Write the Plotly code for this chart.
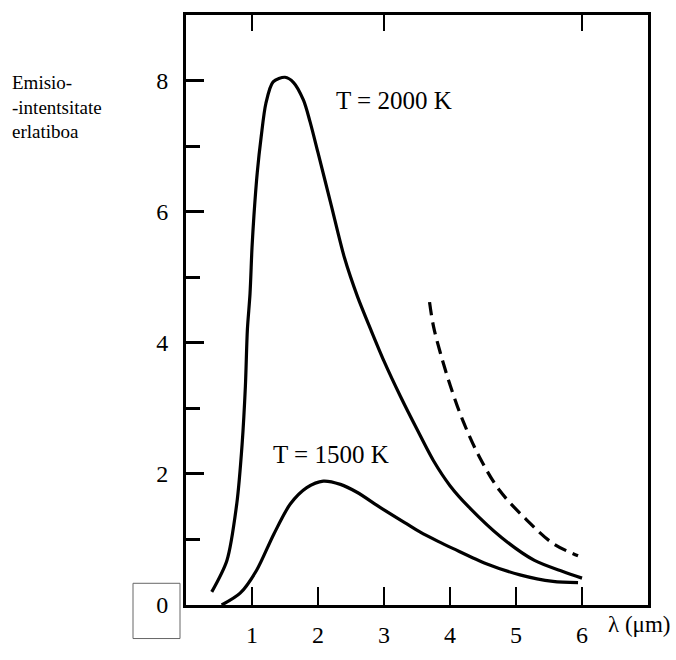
import plotly.graph_objects as go

# Wavelength (µm) and relative emission intensity
lam_2000 = [0.39, 0.62, 0.77, 0.85, 0.90, 0.93, 0.97, 1.0, 1.03, 1.08, 1.14, 1.21, 1.32, 1.50,
            1.63, 1.78, 1.88, 2.0, 2.2, 2.4, 2.6, 2.8, 3.0, 3.25, 3.5, 3.75,
            4.0, 4.28, 4.78, 5.28, 5.71, 6.0]
int_2000 = [0.2, 0.68, 1.55, 2.45, 3.34, 4.2, 4.75, 5.45, 5.95, 6.6, 7.15, 7.65, 7.98, 8.05,
            7.97, 7.7, 7.37, 6.9, 6.1, 5.3, 4.7, 4.2, 3.72, 3.18, 2.68, 2.2,
            1.82, 1.5, 1.03, 0.68, 0.51, 0.41]

lam_1500 = [0.54, 0.82, 1.07, 1.33, 1.58, 1.83, 2.08, 2.34, 2.59, 2.94, 3.34, 3.55, 3.82,
            4.05, 4.55, 5.06, 5.56, 5.94]
int_1500 = [0.0, 0.18, 0.53, 1.08, 1.54, 1.79, 1.89, 1.84, 1.72, 1.49, 1.24, 1.11, 0.97,
            0.86, 0.63, 0.46, 0.36, 0.34]

lam_dash = [3.69, 3.75, 3.85, 4.0, 4.20, 4.45, 4.75, 5.16, 5.56, 5.94]
int_dash = [4.62, 4.25, 3.86, 3.36, 2.80, 2.25, 1.75, 1.30, 0.94, 0.75]

x_ticks = [1, 2, 3, 4, 5, 6]
x_top_ticks = [1, 3, 6]
y_ticks = [0, 2, 4, 6, 8]
y_tick_text = ["0", "2", "4", "6", "8"]

FONT = "Liberation Serif, Times New Roman, serif"

fig = go.Figure()
fig.add_trace(go.Scatter(x=lam_2000, y=int_2000, mode="lines",
                         line=dict(color="black", width=3.2, shape="spline", smoothing=0.8),
                         showlegend=False, hoverinfo="skip"))
fig.add_trace(go.Scatter(x=lam_1500, y=int_1500, mode="lines",
                         line=dict(color="black", width=3.2, shape="spline", smoothing=0.8),
                         showlegend=False, hoverinfo="skip"))
fig.add_trace(go.Scatter(x=lam_dash, y=int_dash, mode="lines",
                         line=dict(color="black", width=3.2, shape="spline", dash="13px,7px"),
                         showlegend=False, hoverinfo="skip"))
# invisible trace to activate the top axis
fig.add_trace(go.Scatter(x=[1], y=[1], xaxis="x2", mode="markers",
                         marker=dict(opacity=0), showlegend=False, hoverinfo="skip"))

fig.update_layout(
    width=676, height=660,
    margin=dict(l=186, r=28, t=14, b=48),
    paper_bgcolor="white", plot_bgcolor="white",
    font=dict(family=FONT, color="black", size=22),
    hovermode=False,
    xaxis=dict(range=[0, 7], tickvals=x_ticks, ticks="inside", ticklen=18, tickwidth=2,
               tickcolor="black", showline=True, linecolor="black", linewidth=3,
               mirror=True, showgrid=False, zeroline=False,
               tickfont=dict(family=FONT, size=24), ticklabelstandoff=6),
    xaxis2=dict(range=[0, 7], overlaying="x", side="top", tickvals=x_top_ticks,
                ticks="inside", ticklen=16, tickwidth=2, tickcolor="black",
                showticklabels=False, showgrid=False, zeroline=False, showline=False),
    yaxis=dict(range=[0, 9], tickvals=y_ticks, ticktext=y_tick_text, ticks="inside",
               ticklen=18, tickwidth=3, tickcolor="black", showline=True,
               linecolor="black", linewidth=3, mirror=True, showgrid=False,
               zeroline=False, tickfont=dict(family=FONT, size=24), ticklabelstandoff=10,
               minor=dict(dtick=1, tick0=0, ticks="inside", ticklen=14, tickwidth=3,
                          tickcolor="black", showgrid=False)),
)

fig.add_annotation(text="Emisio-<br>-intentsitate<br>erlatiboa", xref="paper", yref="paper",
                   x=-176 / 462, y=(612 - 70) / 598, xanchor="left", yanchor="top",
                   align="left", showarrow=False, font=dict(family=FONT, size=19))
fig.add_annotation(text="T = 2000 K", x=3.15, y=7.70, showarrow=False,
                   font=dict(family=FONT, size=25))
fig.add_annotation(text="T = 1500 K", x=2.2, y=2.30, showarrow=False,
                   font=dict(family=FONT, size=25))
fig.add_annotation(text="λ (μm)", x=6.86, xref="x", y=(612 - 646) / 598, yref="paper",
                   showarrow=False, font=dict(family=FONT, size=23))
fig.add_shape(type="rect", xref="paper", yref="paper",
              x0=(133 - 186) / 462, x1=(180 - 186) / 462,
              y0=(612 - 646) / 598, y1=(612 - 590) / 598,
              line=dict(color="#666666", width=1), fillcolor="rgba(0,0,0,0)")

fig.write_html("out.html", config={"displayModeBar": False, "staticPlot": True},
               post_script="document.body.style.margin='0';document.body.style.overflow='hidden';")
